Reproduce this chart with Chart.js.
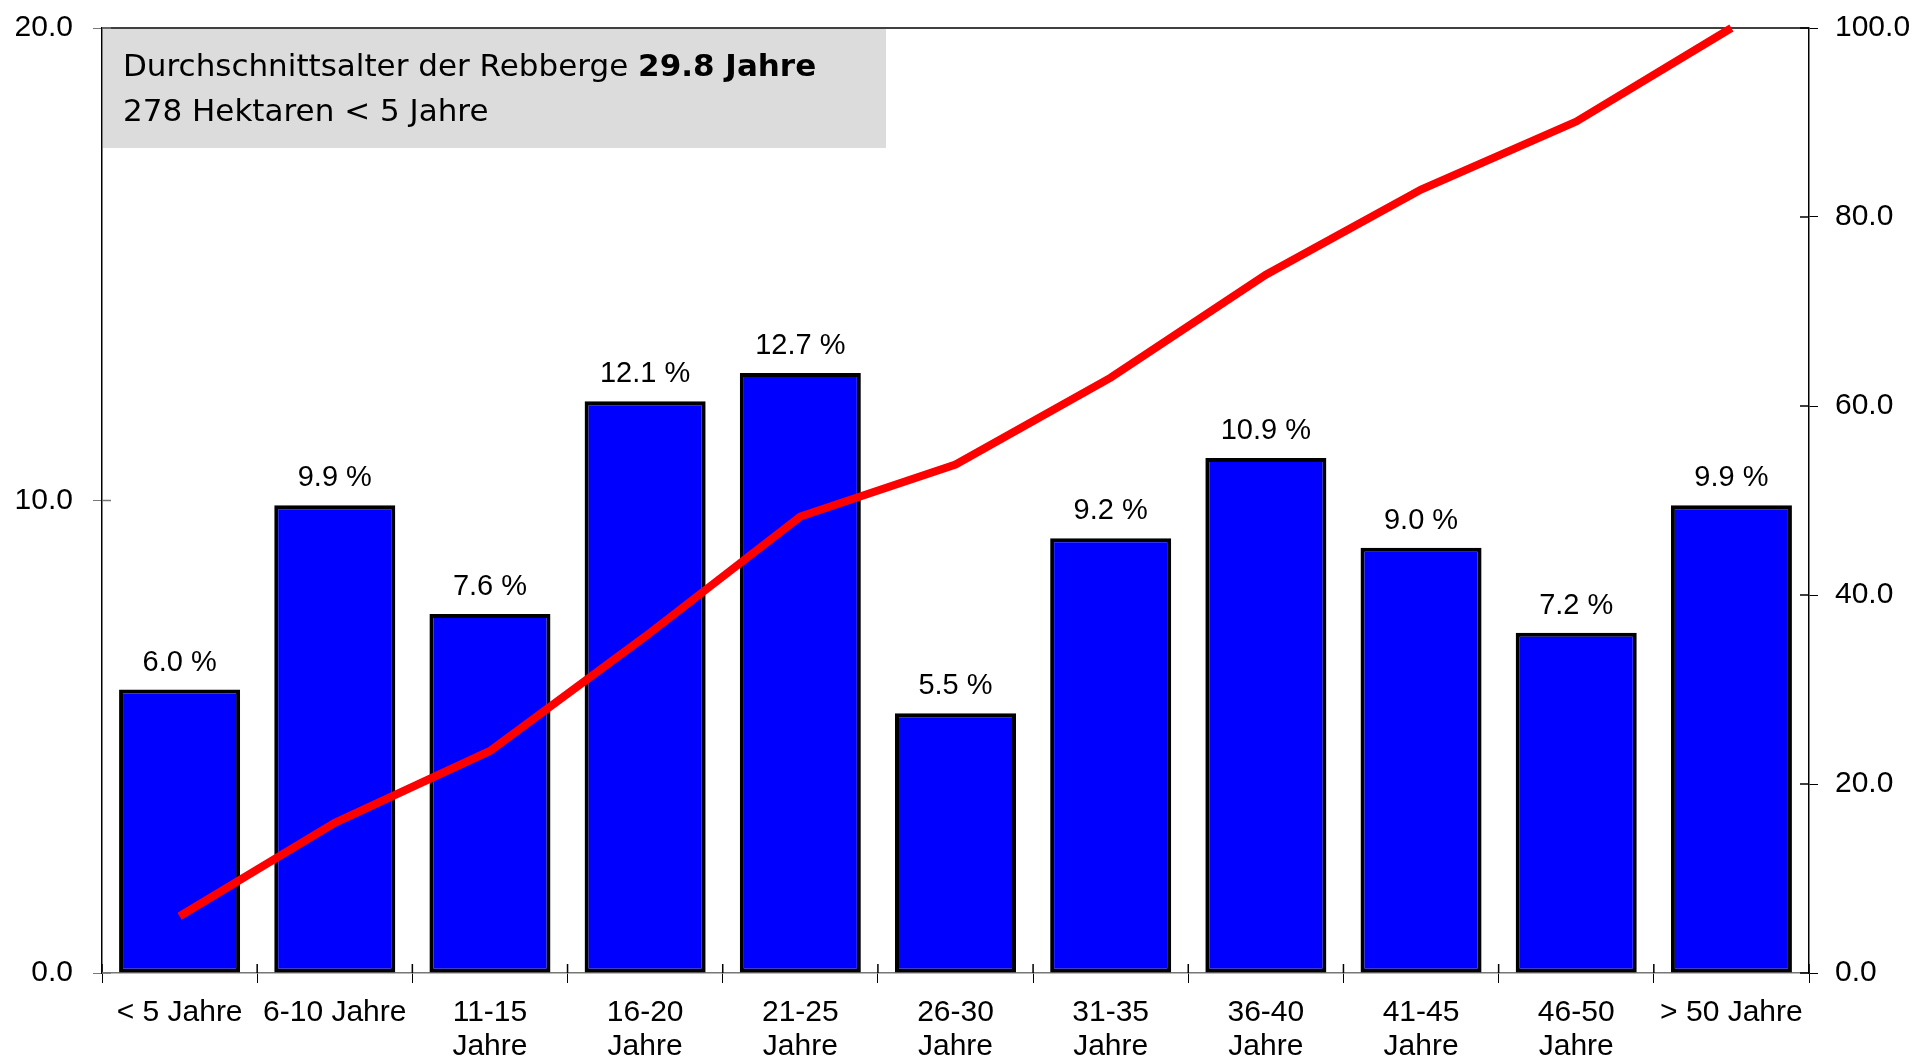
<!DOCTYPE html>
<html>
<head>
<meta charset="utf-8">
<script src="https://cdn.jsdelivr.net/npm/chart.js@4/dist/chart.umd.min.js"></script>
<style>
  html, body { margin: 0; padding: 0; background: #fff; }
</style>
</head>
<body>
<canvas id="grafik" width="1917" height="1060"></canvas>
<script>
// Kategorien (Alter der Rebberge)
const kategorien = ['< 5 Jahre', '6-10 Jahre', ['11-15', 'Jahre'], ['16-20', 'Jahre'], ['21-25', 'Jahre'],
    ['26-30', 'Jahre'], ['31-35', 'Jahre'], ['36-40', 'Jahre'], ['41-45', 'Jahre'], ['46-50', 'Jahre'], '> 50 Jahre'];
// Anteil der Fläche in %
const anteil = [6.0, 9.9, 7.6, 12.1, 12.7, 5.5, 9.2, 10.9, 9.0, 7.2, 9.9];
// kumuliert in %
const kumuliert = [6.0, 15.9, 23.5, 35.6, 48.3, 53.8, 63.0, 73.9, 82.9, 90.1, 100.0];
const ticksLinks = [0, 10, 20];
const ticksRechts = [0, 20, 40, 60, 80, 100];

const schrift = "'Liberation Sans', Arial, sans-serif";
const boxSchrift = "'DejaVu Sans', Tahoma, sans-serif";

// Textbox oben links + obere Rahmenlinie
const infoBox = {
    id: 'infoBox',
    beforeDatasetsDraw(chart) {
        const { ctx, chartArea } = chart;
        ctx.save();
        ctx.fillStyle = '#dcdcdc';
        ctx.fillRect(chartArea.left + 1, chartArea.top + 1, 783, 119);
        ctx.fillStyle = '#000';
        ctx.textBaseline = 'alphabetic';
        ctx.textAlign = 'left';
        ctx.font = '31px ' + boxSchrift;
        const t1 = 'Durchschnittsalter der Rebberge ';
        ctx.fillText(t1, 123, 76);
        const w = ctx.measureText(t1).width;
        ctx.font = 'bold 31px ' + boxSchrift;
        ctx.fillText('29.8 Jahre', 123 + w, 76);
        ctx.font = '31px ' + boxSchrift;
        ctx.fillText('278 Hektaren < 5 Jahre', 123, 121);
        // obere Linie
        ctx.strokeStyle = '#000';
        ctx.lineWidth = 1.5;
        ctx.beginPath();
        ctx.moveTo(chartArea.left, chartArea.top);
        ctx.lineTo(chartArea.right, chartArea.top);
        ctx.stroke();
        ctx.restore();
    }
};

// Prozentwerte über den Balken + Teilstriche nach innen
const balkenLabels = {
    id: 'balkenLabels',
    afterDatasetsDraw(chart) {
        const { ctx, chartArea, scales } = chart;
        const meta = chart.getDatasetMeta(0);
        ctx.save();
        ctx.fillStyle = '#000';
        ctx.font = '29px ' + schrift;
        ctx.textAlign = 'center';
        ctx.textBaseline = 'alphabetic';
        meta.data.forEach((bar, i) => {
            ctx.fillText(anteil[i].toFixed(1) + ' %', bar.x, bar.y - 19);
        });
        ctx.lineWidth = 1.5;
        ctx.strokeStyle = '#000';
        ctx.beginPath();
        for (let i = 0; i <= kategorien.length; i++) {
            const x = scales.x.getPixelForValue(i - 0.5);
            ctx.moveTo(x, chartArea.bottom);
            ctx.lineTo(x, chartArea.bottom - 9);
        }
        ticksRechts.forEach(v => {
            const y = scales.y2.getPixelForValue(v);
            ctx.moveTo(chartArea.right, y);
            ctx.lineTo(chartArea.right - 9, y);
        });
        ctx.stroke();
        ctx.strokeStyle = '#777';
        ctx.beginPath();
        ticksLinks.forEach(v => {
            const y = scales.y.getPixelForValue(v);
            ctx.moveTo(chartArea.left, y);
            ctx.lineTo(chartArea.left + 9, y);
        });
        ctx.stroke();
        ctx.restore();
    }
};

function keinPaddingY(s, breite) {
    s.width = breite;
    s.paddingTop = 0;
    s.paddingBottom = 0;
}

let grafik = document.getElementById('grafik').getContext('2d');

let chart = new Chart(grafik, {
    type: 'bar',
    data: {
        labels: kategorien,
        datasets: [
            {
                type: 'bar',
                label: 'Anteil',
                data: anteil,
                backgroundColor: '#0000ff',
                borderColor: '#000',
                borderWidth: 4,
                borderSkipped: false,
                barPercentage: 1,
                categoryPercentage: 0.78,
                yAxisID: 'y',
                order: 1
            },
            {
                type: 'line',
                label: 'Kumuliert',
                data: kumuliert,
                borderColor: '#ff0000',
                borderWidth: 8,
                pointRadius: 0,
                tension: 0,
                clip: false,
                yAxisID: 'y2',
                order: 0
            }
        ]
    },
    options: {
        responsive: false,
        animation: false,
        layout: { padding: { top: 28, left: 0, right: 0, bottom: 0 } },
        plugins: {
            legend: { display: false },
            tooltip: { enabled: false }
        },
        scales: {
            x: {
                grid: { drawOnChartArea: false, tickLength: 10, color: '#000', offset: true },
                border: { color: '#777', width: 1.5 },
                ticks: { color: '#000', font: { family: schrift, size: 30, lineHeight: 1.15 }, padding: 12, maxRotation: 0, autoSkip: false },
                afterFit(s) { s.height = 87; s.paddingLeft = 0; s.paddingRight = 0; }
            },
            y: {
                position: 'left',
                min: 0, max: 20,
                afterBuildTicks(s) { s.ticks = ticksLinks.map(v => ({ value: v })); },
                grid: { drawOnChartArea: false, tickLength: 9, color: '#777' },
                border: { color: '#000', width: 1.5 },
                ticks: { color: '#000', font: { family: schrift, size: 30 }, padding: 20, callback: v => v.toFixed(1) },
                afterFit(s) { keinPaddingY(s, 102); }
            },
            y2: {
                position: 'right',
                min: 0, max: 100,
                afterBuildTicks(s) { s.ticks = ticksRechts.map(v => ({ value: v })); },
                grid: { drawOnChartArea: false, tickLength: 9, color: '#000' },
                border: { color: '#000', width: 1.5 },
                ticks: { color: '#000', font: { family: schrift, size: 30 }, padding: 17, callback: v => v.toFixed(1) },
                afterFit(s) { keinPaddingY(s, 108); }
            }
        }
    },
    plugins: [infoBox, balkenLabels]
});
</script>
</body>
</html>
